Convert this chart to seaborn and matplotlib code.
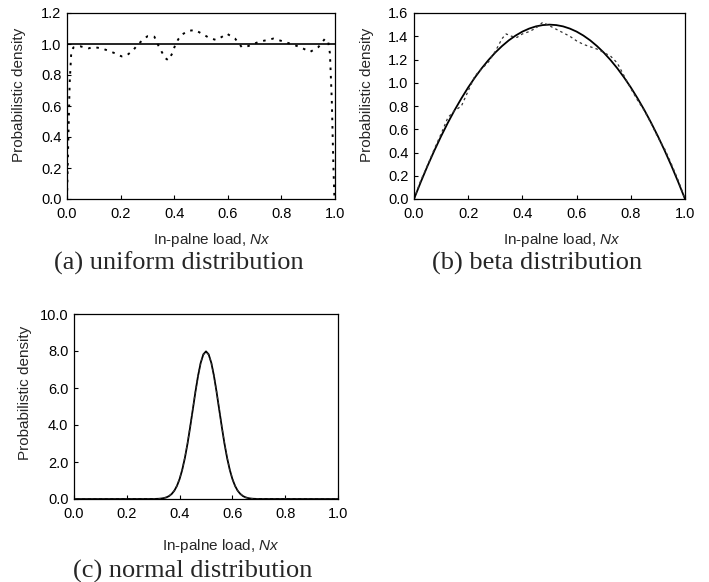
import matplotlib
matplotlib.use("Agg")
import matplotlib.pyplot as plt
import seaborn as sns

# ---------------- data ----------------
# (a) uniform distribution
uni_theory_x = [0.0, 1.0]
uni_theory_y = [1.0, 1.0]
uni_sim_x = [0.0, 0.004, 0.010, 0.016, 0.024, 0.049, 0.08, 0.10, 0.129, 0.154, 0.179, 0.204,
             0.222, 0.247, 0.266, 0.279, 0.30, 0.326, 0.338, 0.351, 0.366, 0.378, 0.393, 0.403,
             0.415, 0.428, 0.453, 0.478, 0.506, 0.53, 0.556, 0.577, 0.596, 0.627, 0.652, 0.677,
             0.714, 0.77, 0.814, 0.87, 0.907, 0.938, 0.963, 0.975, 0.981, 0.988, 0.994, 0.998]
uni_sim_y = [0.0, 0.32, 0.75, 0.95, 0.978, 0.985, 0.972, 0.98, 0.972, 0.957, 0.94, 0.92,
             0.925, 0.96, 1.0, 1.02, 1.05, 1.047, 1.0, 0.957, 0.91, 0.895, 0.94, 0.99,
             1.03, 1.06, 1.085, 1.09, 1.064, 1.04, 1.026, 1.045, 1.067, 1.035, 0.98, 0.987,
             1.013, 1.035, 1.013, 0.98, 0.949, 0.98, 1.035, 1.01, 0.94, 0.64, 0.21, 0.0]

# (b) beta distribution
beta_x = [0.0, 0.025, 0.05, 0.075, 0.1, 0.125, 0.15, 0.175, 0.2, 0.225, 0.25, 0.275, 0.3,
          0.325, 0.35, 0.375, 0.4, 0.425, 0.45, 0.475, 0.5, 0.525, 0.55, 0.575, 0.6, 0.625,
          0.65, 0.675, 0.7, 0.725, 0.75, 0.775, 0.8, 0.825, 0.85, 0.875, 0.9, 0.925, 0.95,
          0.975, 1.0]
beta_theory_y = [0.0, 0.146, 0.285, 0.416, 0.54, 0.656, 0.765, 0.866, 0.96, 1.046, 1.125,
                 1.196, 1.26, 1.316, 1.365, 1.406, 1.44, 1.466, 1.485, 1.496, 1.5, 1.496,
                 1.485, 1.466, 1.44, 1.406, 1.365, 1.316, 1.26, 1.196, 1.125, 1.046, 0.96,
                 0.866, 0.765, 0.656, 0.54, 0.416, 0.285, 0.146, 0.0]
beta_sim_x = [0.0, 0.025, 0.05, 0.075, 0.1, 0.125, 0.15, 0.175, 0.2, 0.225, 0.25, 0.275, 0.3,
              0.325, 0.34, 0.36, 0.38, 0.4, 0.425, 0.45, 0.475, 0.5, 0.525, 0.55, 0.575, 0.6,
              0.625, 0.65, 0.675, 0.7, 0.725, 0.75, 0.775, 0.8, 0.825, 0.85, 0.875, 0.9,
              0.925, 0.95, 0.975, 1.0]
beta_sim_y = [0.0, 0.16, 0.29, 0.43, 0.56, 0.70, 0.76, 0.80, 0.93, 1.06, 1.12, 1.18, 1.27,
              1.38, 1.42, 1.40, 1.39, 1.42, 1.44, 1.47, 1.52, 1.49, 1.46, 1.43, 1.40, 1.36,
              1.33, 1.31, 1.29, 1.26, 1.23, 1.17, 1.06, 0.95, 0.85, 0.76, 0.65, 0.53, 0.43,
              0.30, 0.16, 0.0]

# (c) normal distribution
norm_x = [0.0, 0.30, 0.31, 0.32, 0.33, 0.34, 0.35, 0.36, 0.37, 0.38, 0.39, 0.40, 0.41, 0.42,
          0.43, 0.44, 0.45, 0.46, 0.47, 0.48, 0.49, 0.50, 0.51, 0.52, 0.53, 0.54, 0.55, 0.56,
          0.57, 0.58, 0.59, 0.60, 0.61, 0.62, 0.63, 0.64, 0.65, 0.66, 0.67, 0.68, 0.69, 0.70,
          1.0]
norm_theory_y = [0.0, 0.003, 0.006, 0.012, 0.025, 0.048, 0.089, 0.158, 0.272, 0.448, 0.709,
                 1.080, 1.579, 2.218, 2.995, 3.884, 4.839, 5.794, 6.665, 7.365, 7.821, 7.979,
                 7.821, 7.365, 6.665, 5.794, 4.839, 3.884, 2.995, 2.218, 1.579, 1.080, 0.709,
                 0.448, 0.272, 0.158, 0.089, 0.048, 0.025, 0.012, 0.006, 0.003, 0.0]
norm_sim_y = [0.0, 0.003, 0.006, 0.012, 0.027, 0.05, 0.092, 0.16, 0.28, 0.46, 0.72,
              1.10, 1.60, 2.25, 3.02, 3.92, 4.86, 5.83, 6.70, 7.38, 7.80, 7.93,
              7.80, 7.38, 6.70, 5.80, 4.86, 3.90, 3.00, 2.23, 1.58, 1.09, 0.71,
              0.45, 0.28, 0.16, 0.09, 0.05, 0.025, 0.012, 0.006, 0.003, 0.0]

x_ticks = [0.0, 0.2, 0.4, 0.6, 0.8, 1.0]
captions = ["(a) uniform distribution", "(b) beta distribution", "(c) normal distribution"]

# ---------------- style ----------------
sns.set_theme(style="ticks")
plt.rcParams["font.family"] = ["Liberation Sans", "DejaVu Sans"]
plt.rcParams["mathtext.fontset"] = "custom"
plt.rcParams["mathtext.it"] = "Liberation Sans:italic"
plt.rcParams["mathtext.rm"] = "Liberation Sans"

W, H = 709, 582
fig = plt.figure(figsize=(W / 100, H / 100), dpi=100)
fig.patch.set_facecolor("white")


def make_ax(l, t, r, b):
    return fig.add_axes([l / W, 1 - b / H, (r - l) / W, (b - t) / H])


ax_a = make_ax(67, 13, 335, 199)
ax_b = make_ax(414, 13, 685, 199)
ax_c = make_ax(74, 314, 338, 499)

sim_dotted = (0, (1.3, 3.0))
sim_dashed = (0, (2.0, 2.5))

# (a)
sns.lineplot(x=uni_theory_x, y=uni_theory_y, ax=ax_a, color="black", lw=1.2,
             estimator=None, sort=False)
sns.lineplot(x=uni_sim_x, y=uni_sim_y, ax=ax_a, color="black", lw=1.4,
             linestyle=sim_dotted, estimator=None, sort=False)
ax_a.set_ylim(0, 1.2)
ax_a.set_yticks([0.0, 0.2, 0.4, 0.6, 0.8, 1.0, 1.2])

# (b)
sns.lineplot(x=beta_x, y=beta_theory_y, ax=ax_b, color="black", lw=1.3,
             estimator=None, sort=False)
sns.lineplot(x=beta_sim_x, y=beta_sim_y, ax=ax_b, color="#333333", lw=0.9,
             linestyle=sim_dashed, estimator=None, sort=False)
ax_b.set_ylim(0, 1.6)
ax_b.set_yticks([0.0, 0.2, 0.4, 0.6, 0.8, 1.0, 1.2, 1.4, 1.6])

# (c)
sns.lineplot(x=norm_x, y=norm_theory_y, ax=ax_c, color="black", lw=1.3,
             estimator=None, sort=False)
sns.lineplot(x=norm_x, y=norm_sim_y, ax=ax_c, color="#333333", lw=0.9,
             linestyle=sim_dashed, estimator=None, sort=False)
ax_c.set_ylim(0, 10.0)
ax_c.set_yticks([0.0, 2.0, 4.0, 6.0, 8.0, 10.0])

for ax in (ax_a, ax_b, ax_c):
    ax.set_xlim(0, 1.0)
    ax.set_xticks(x_ticks)
    ax.xaxis.set_major_formatter(matplotlib.ticker.FormatStrFormatter("%.1f"))
    ax.yaxis.set_major_formatter(matplotlib.ticker.FormatStrFormatter("%.1f"))
    ax.tick_params(direction="in", length=3, width=0.8, labelsize=10.5, pad=6,
                   colors="black")
    ax.tick_params(axis="y", pad=4)
    for s in ax.spines.values():
        s.set_visible(True)
        s.set_color("black")
        s.set_linewidth(0.9)
    ax.set_xlabel("")
    ax.set_ylabel("")
    ax.set_facecolor("white")

# labels and captions
xlabel = "In-palne load, $Nx$"
ylabel = "Probabilistic density"
fig.text(212 / W, 1 - 240 / H, xlabel, ha="center", va="center", fontsize=11)
fig.text(562 / W, 1 - 240 / H, xlabel, ha="center", va="center", fontsize=11)
fig.text(221 / W, 1 - 546 / H, xlabel, ha="center", va="center", fontsize=11)
fig.text(19 / W, 1 - 95 / H, ylabel, ha="center", va="center", rotation=90, fontsize=11)
fig.text(367 / W, 1 - 95 / H, ylabel, ha="center", va="center", rotation=90, fontsize=11)
fig.text(25 / W, 1 - 393 / H, ylabel, ha="center", va="center", rotation=90, fontsize=11)

cap_font = ["Liberation Serif", "DejaVu Serif"]
fig.text(179 / W, 1 - 263 / H, captions[0], ha="center", va="center", fontsize=19,
         family=cap_font)
fig.text(537 / W, 1 - 263 / H, captions[1], ha="center", va="center", fontsize=19,
         family=cap_font)
fig.text(193 / W, 1 - 571 / H, captions[2], ha="center", va="center", fontsize=19,
         family=cap_font)

fig.savefig("out.png", dpi=100, facecolor="white")
